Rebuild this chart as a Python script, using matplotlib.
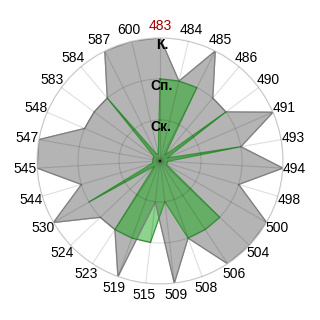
import numpy as np
import matplotlib
matplotlib.use("Agg")
import matplotlib.pyplot as plt

plt.rcParams['font.family'] = ['Liberation Sans', 'DejaVu Sans']

categories = ['483', '484', '485', '486', '490', '491', '493', '494', '498', '500',
              '504', '506', '508', '509', '515', '519', '523', '524', '530', '544',
              '545', '547', '548', '583', '584', '587', '600']
required = [3, 2, 3, 2, 2, 3, 2, 3, 2, 3,
            3, 3, 2, 3, 1, 3, 2, 2, 3, 2,
            3, 3, 2, 2, 2, 3, 3]
actual = [2, 2, 2, 0.18, 2, 0.18, 2, 0.18, 0.18, 0.18,
          2, 2, 2, 1, 2, 2, 2, 0.18, 2, 0.18,
          0.18, 0.18, 0.18, 0.18, 2, 0.18, 0.18]
level_values = [1, 2, 3]
level_labels = ['Ск.', 'Сп.', 'К.']

n = len(categories)
theta = np.arange(n) * 2 * np.pi / n
th_c = np.append(theta, theta[0])
req_c = np.append(required, required[0])
act_c = np.append(actual, actual[0])

fig = plt.figure(figsize=(3.2, 3.2), dpi=100)
ax = fig.add_axes([0.1156, 0.1125, 0.769, 0.769], polar=True)
ax.set_theta_zero_location('N')
ax.set_theta_direction(-1)

ax.fill(th_c, req_c, color='#b4b4b4', zorder=1)
ax.plot(th_c, req_c, color='#7f7f7f', lw=0.9, zorder=2)
ax.fill(th_c, act_c, color='#1aa81a', alpha=0.5, zorder=1.5, lw=0)
ax.plot(th_c, act_c, color='#3a963a', lw=0.9, zorder=2)

ax.set_ylim(0, 3)
ax.set_yticks(level_values)
ax.set_yticklabels([])
ax.set_xticks(theta)
ax.set_xticklabels(categories, fontsize=10)
ax.get_xticklabels()[0].set_color('#a00000')
ax.tick_params(axis='x', pad=1.5, length=0)
ax.set_axisbelow(False)
ax.grid(True, color='#000000', alpha=0.13, lw=0.8)
ax.spines['polar'].set_color('#d8d8d8')
ax.spines['polar'].set_linewidth(0.9)

for v, lab in zip(level_values, level_labels):
    ax.text(0.017, v - 0.17, lab, fontsize=10, fontweight='bold',
            ha='center', va='center', zorder=5)

fig.savefig('out.png', dpi=100)
